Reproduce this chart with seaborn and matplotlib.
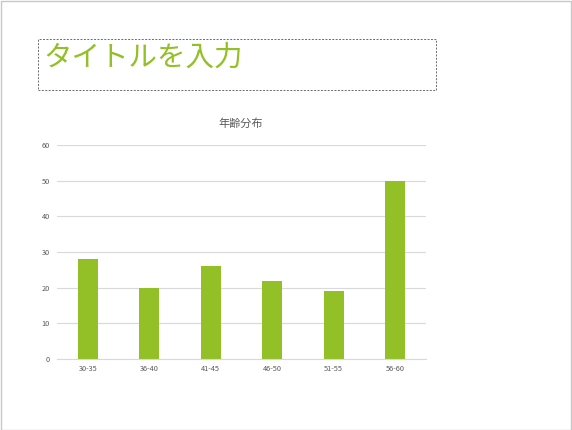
import matplotlib
matplotlib.use("Agg")
import matplotlib.pyplot as plt
import matplotlib.patches as patches
import seaborn as sns
import pandas as pd

# chart data
age_groups = ["30-35", "36-40", "41-45", "46-50", "51-55", "56-60"]
counts = [28, 20, 26, 22, 19, 50]
y_ticks = [0, 10, 20, 30, 40, 50, 60]

slide_title = "タイトルを入力"
chart_title = "年齢分布"

GREEN = "#92C026"
GRAY_TEXT = "#595959"

sns.set_theme(style="white")
plt.rcParams["font.family"] = ["Noto Sans CJK JP", "DejaVu Sans"]

W, H = 572, 430
fig = plt.figure(figsize=(W / 100, H / 100), dpi=100)

# slide border
fig.patches.append(patches.Rectangle((0.5 / W, 0.5 / H), 1 - 1.5 / W, 1 - 1.5 / H,
                                     transform=fig.transFigure, fill=False,
                                     edgecolor="#c8c8c8", linewidth=1.0))

# title placeholder box (dashed)
x0, y0, x1, y1 = 38, 39, 436, 90
fig.patches.append(patches.Rectangle((x0 / W, 1 - y1 / H), (x1 - x0) / W, (y1 - y0) / H,
                                     transform=fig.transFigure, fill=False,
                                     edgecolor="#6a6a6a", linewidth=0.7,
                                     linestyle=(0, (2, 1.5))))
fig.text(43 / W, 1 - 58 / H, slide_title, fontsize=20.5, color=GREEN,
         ha="left", va="center")

# chart area
left, right, top, bottom = 57, 426, 145, 359
ax = fig.add_axes([left / W, 1 - bottom / H, (right - left) / W, (bottom - top) / H])

df = pd.DataFrame({"age": age_groups, "count": counts})
sns.barplot(data=df, x="age", y="count", color=GREEN, width=0.33,
            saturation=1, linewidth=0, ax=ax)

ax.set_ylim(0, 60)
ax.set_yticks(y_ticks)
ax.set_xlim(-0.5, len(age_groups) - 0.5)
ax.yaxis.grid(True, color="#d9d9d9", linewidth=0.8)
ax.set_axisbelow(True)
for side in ["top", "right", "left"]:
    ax.spines[side].set_visible(False)
ax.spines["bottom"].set_color("#d9d9d9")
ax.spines["bottom"].set_linewidth(0.8)
ax.tick_params(axis="both", length=0, labelsize=5.3, labelcolor=GRAY_TEXT)
ax.tick_params(axis="y", pad=5)
ax.tick_params(axis="x", pad=4)
ax.set_xlabel("")
ax.set_ylabel("")

fig.text(241 / W, 1 - 124 / H, chart_title, fontsize=8, color=GRAY_TEXT,
         ha="center", va="center")

fig.savefig("out.png", dpi=100)
